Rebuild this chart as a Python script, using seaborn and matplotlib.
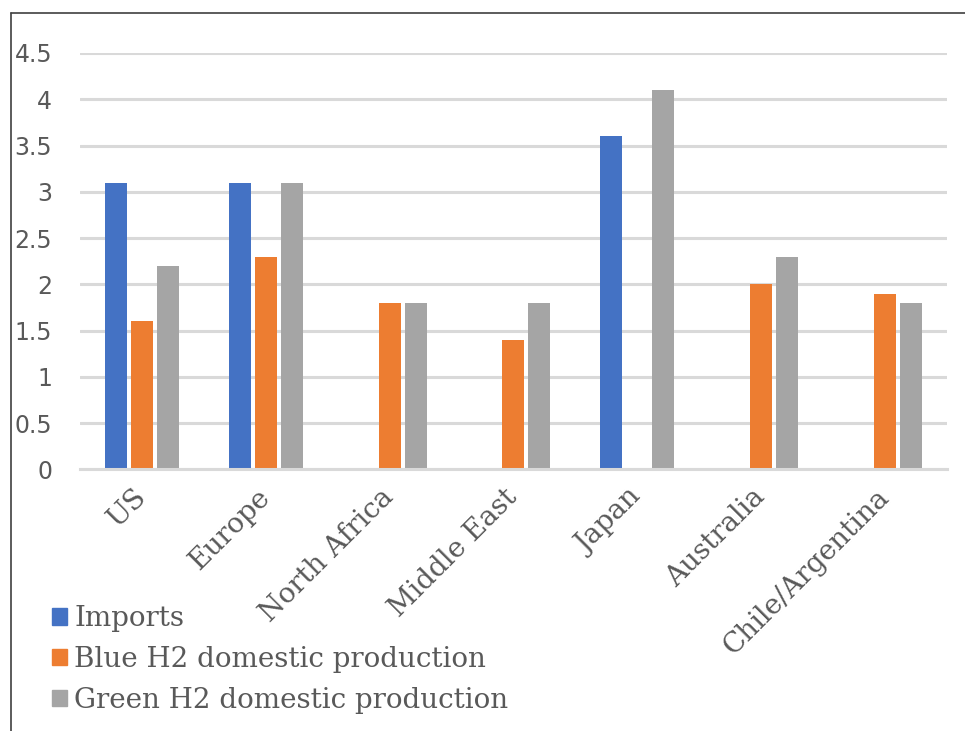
import pandas as pd
import seaborn as sns
import matplotlib.pyplot as plt
from matplotlib.lines import Line2D

# chart values
regions = ["US", "Europe", "North Africa", "Middle East", "Japan", "Australia", "Chile/Argentina"]
imports = [3.1, 3.1, 0, 0, 3.6, 0, 0]
blue_h2 = [1.6, 2.3, 1.8, 1.4, 0, 2.0, 1.9]
green_h2 = [2.2, 3.1, 1.8, 1.8, 4.1, 2.3, 1.8]
series = ["Imports", "Blue H2 domestic production", "Green H2 domestic production"]
colors = ["#4472C4", "#ED7D31", "#A5A5A5"]
yticks = [0, 0.5, 1, 1.5, 2, 2.5, 3, 3.5, 4, 4.5]

df = pd.DataFrame({"region": regions, series[0]: imports, series[1]: blue_h2, series[2]: green_h2})
long = df.melt(id_vars="region", var_name="series", value_name="value")

sns.set_style("white")
fig = plt.figure(figsize=(9.65, 7.31), dpi=100)
ax = fig.add_axes([0.083, 0.358, 0.898, 0.5695])

sns.barplot(data=long, x="region", y="value", hue="series", hue_order=series,
            palette=colors, saturation=1, width=0.63, gap=0.15, linewidth=0,
            ax=ax, legend=False)

ax.set_ylim(0, 4.5)
ax.set_xlim(-0.5, len(regions) - 0.5)
ax.set_yticks(yticks)
ax.set_yticklabels([f"{t:g}" for t in yticks], fontsize=17, color="#595959", family="DejaVu Sans")
ax.yaxis.grid(True, color="#D9D9D9", linewidth=2.2)
ax.set_axisbelow(True)
ax.tick_params(axis="y", length=0, pad=20)
ax.tick_params(axis="x", length=0, pad=17)
ax.set_xticks(range(len(regions)))
ax.set_xticklabels(regions, rotation=45, ha="right", va="center", rotation_mode="anchor",
                   fontsize=20, color="#595959", family="DejaVu Serif")
for s in ["top", "right", "left"]:
    ax.spines[s].set_visible(False)
ax.spines["bottom"].set_color("#D9D9D9")
ax.spines["bottom"].set_linewidth(2.2)
ax.set_xlabel("")
ax.set_ylabel("")

handles = [plt.Rectangle((0, 0), 1, 1, color=c) for c in colors]
fig.legend(handles, series, loc="upper left", bbox_to_anchor=(52 / 965, 1 - 605 / 731),
           frameon=False, borderpad=0, borderaxespad=0,
           handlelength=0.55, handleheight=0.55, handletextpad=0.25, labelspacing=0.5,
           prop={"family": "DejaVu Serif", "size": 20}, labelcolor="#595959")

# outer frame lines (top and left)
fig.add_artist(Line2D([11 / 965, 11 / 965], [0, 1 - 13 / 731], transform=fig.transFigure,
                      color="#404040", linewidth=1.2))
fig.add_artist(Line2D([11 / 965, 1], [1 - 13 / 731, 1 - 13 / 731], transform=fig.transFigure,
                      color="#404040", linewidth=1.2))

fig.savefig("out.png", dpi=100)
